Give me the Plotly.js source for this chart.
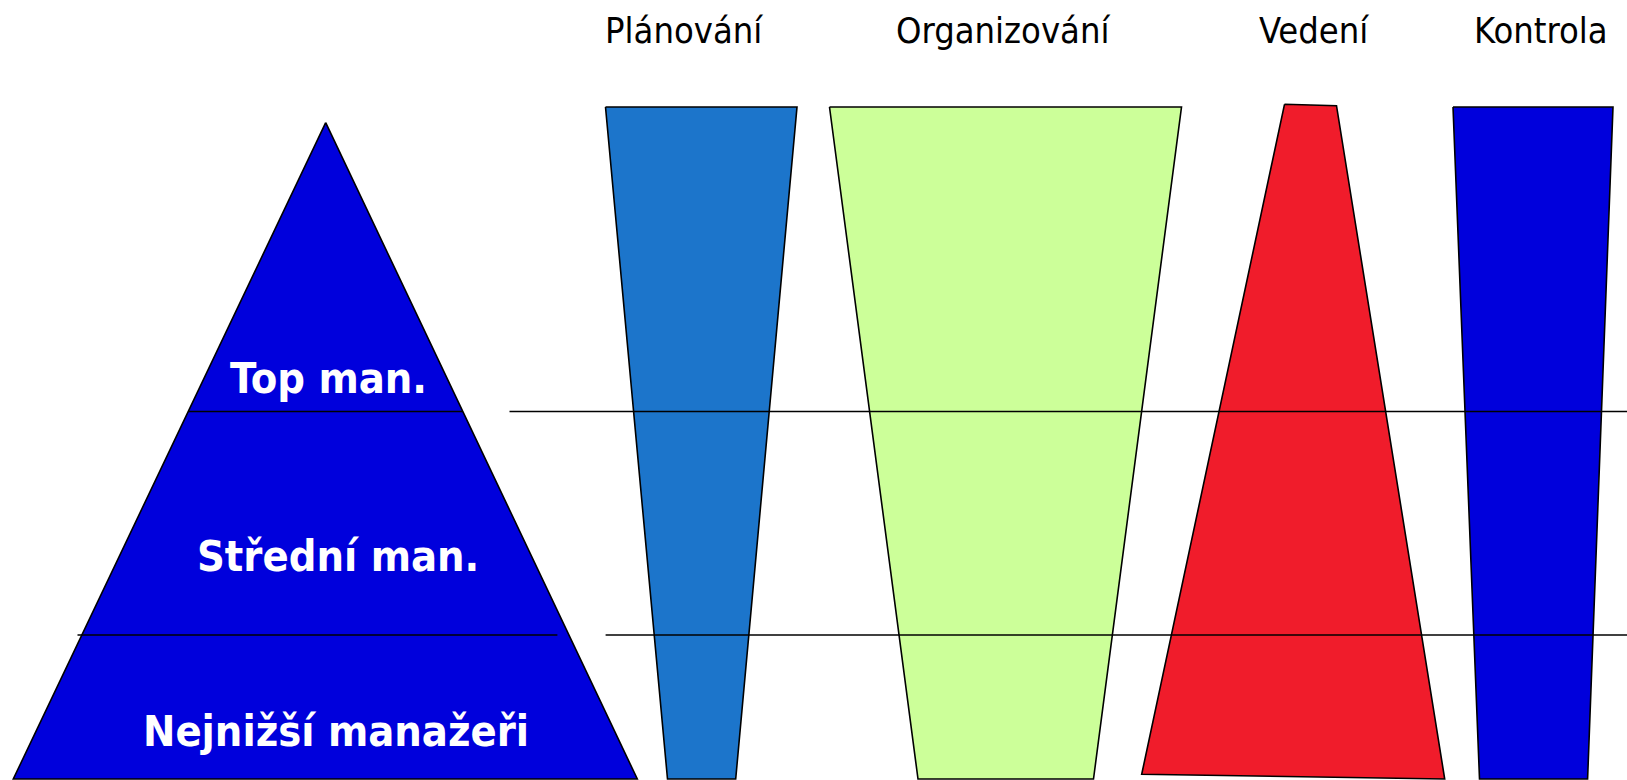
<!DOCTYPE html>
<html>
<head>
<meta charset="utf-8">
<script src="https://cdn.plot.ly/plotly-3.0.1.min.js"></script>
<style>html,body{margin:0;padding:0;background:#fff;}#chart{width:1627px;height:780px;}</style>
</head>
<body>
<div id="chart"></div>
<script>
// Function names (column headers)
var functions = ['Plánování', 'Organizování', 'Vedení', 'Kontrola'];
var functionCenters = [683.5, 1003, 1314, 1541];

// Management levels (pyramid labels)
var levels = ['Top man.', 'Střední man.', 'Nejnižší manažeři'];
var levelCenterX = [328.4, 337.7, 335.7];
var levelBaseY = [392.7, 571, 745.7];

// Pyramid vertices
var pyramidX = [325.7, 637.3, 13.3];
var pyramidY = [122.7, 779, 779];

// Function shapes (vertices: top-left, top-right, bottom-right, bottom-left)
var planX = [605.5, 797, 735.7, 667.5];
var planY = [107, 107, 779, 779];
var orgX = [829.5, 1181.5, 1093.5, 918];
var orgY = [107, 107, 779, 779];
var vedX = [1284.5, 1336.5, 1444.7, 1141.7];
var vedY = [104.3, 105.7, 779, 774.3];
var kontX = [1453, 1613, 1587.6, 1479.5];
var kontY = [107, 107, 779, 779];

// Level divider lines
var divider1Y = 411.5;
var divider1Inner = [188.2, 462.8];
var divider1Outer = [509.5, 1627];
var divider2Y = 635;
var divider2Inner = [77.5, 557.4];
var divider2Outer = [605.6, 1627];

function poly(xs, ys, fill) {
  return {
    type: 'scatter', mode: 'lines', fill: 'toself', fillcolor: fill,
    x: xs.concat([xs[0]]), y: ys.concat([ys[0]]),
    line: {color: '#000', width: 1.6}, hoverinfo: 'skip'
  };
}
function hline(xr, y) {
  return {
    type: 'scatter', mode: 'lines', x: xr, y: [y, y],
    line: {color: '#000', width: 1.6}, hoverinfo: 'skip'
  };
}

var data = [
  poly(pyramidX, pyramidY, '#0000DC'),
  poly(planX, planY, '#1C75CB'),
  poly(orgX, orgY, '#CCFF99'),
  poly(vedX, vedY, '#F01C2B'),
  poly(kontX, kontY, '#0000DC'),
  hline(divider1Inner, divider1Y),
  hline(divider1Outer, divider1Y),
  hline(divider2Inner, divider2Y),
  hline(divider2Outer, divider2Y)
];

var annotations = [];
var tSize = 36;
functions.forEach(function (t, i) {
  annotations.push({
    x: functionCenters[i], y: 43 - 0.346 * tSize, xref: 'x', yref: 'y',
    text: t, showarrow: false, xanchor: 'center', yanchor: 'middle',
    font: {family: '"DejaVu Sans Condensed", "DejaVu Sans", sans-serif', size: tSize, color: '#000'}
  });
});
var lSize = 43;
levels.forEach(function (t, i) {
  annotations.push({
    x: levelCenterX[i], y: levelBaseY[i] - 0.346 * lSize, xref: 'x', yref: 'y',
    text: '<b>' + t + '</b>', showarrow: false, xanchor: 'center', yanchor: 'middle',
    font: {family: '"DejaVu Sans Condensed", "DejaVu Sans", sans-serif', size: lSize, color: '#fff', weight: 'bold'}
  });
});

var layout = {
  width: 1627, height: 780,
  margin: {l: 0, r: 0, t: 0, b: 0, pad: 0},
  paper_bgcolor: '#fff', plot_bgcolor: '#fff',
  showlegend: false,
  xaxis: {range: [0, 1627], visible: false, fixedrange: true},
  yaxis: {range: [780, 0], visible: false, fixedrange: true},
  annotations: annotations
};

Plotly.newPlot('chart', data, layout, {displayModeBar: false, staticPlot: true});
</script>
</body>
</html>
